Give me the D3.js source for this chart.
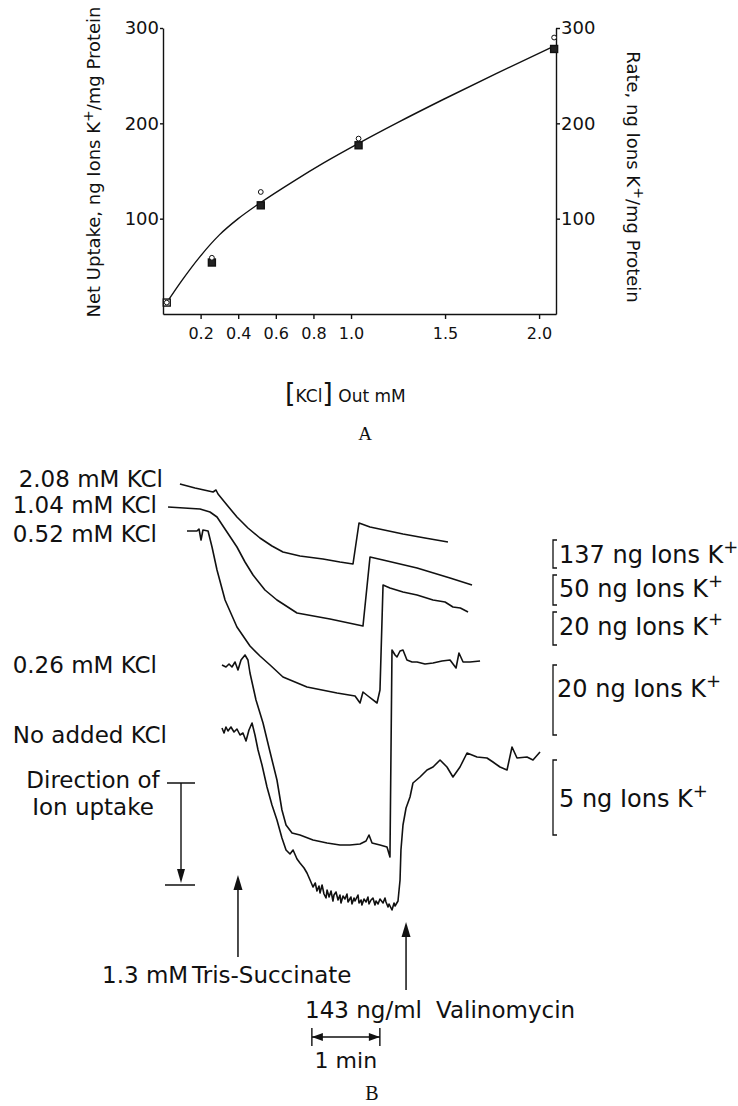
<!DOCTYPE html>
<html>
<head>
<meta charset="utf-8">
<script src="https://cdn.jsdelivr.net/npm/d3@7/dist/d3.min.js"></script>
<style>
  body { margin: 0; background: #fff; }
  text { font-family: "DejaVu Sans", sans-serif; fill: #111; }
  text.serif { font-family: "Liberation Serif", "DejaVu Serif", serif; }
</style>
</head>
<body>
<div class="chart"></div>
<script>
// ---- panel A : net uptake vs external KCl ----
var kclConc     = [0.02, 0.26, 0.52, 1.04, 2.08];
var uptakeSq    = [12, 54, 114, 177, 278];   // squares (net uptake)
var uptakeCirc  = [12, 59, 128, 184, 290];   // open circles (rate)
var fitConc     = [0.02, 0.1, 0.2, 0.3, 0.4, 0.52, 0.7, 0.85, 1.04, 1.25, 1.49, 1.78, 2.08];
var fitUptake   = [12, 35, 61, 83, 100, 117, 140, 158, 179, 201, 225, 253, 281];
var xTicks      = [0.2, 0.4, 0.6, 0.8, 1.0, 1.5, 2.0];
var xTickLabels = ["0.2", "0.4", "0.6", "0.8", "1.0", "1.5", "2.0"];
var yTicks      = [100, 200, 300];

// ---- panel B : recorder traces, [seconds, chart divisions (down = uptake)] ----
var traceNames = ["2.08 mM KCl", "1.04 mM KCl", "0.52 mM KCl", "0.26 mM KCl", "No added KCl"];
var trace208 = [[17.6,2.8],[30.9,3.6],[46.8,4.4],[49.4,4.0],[51.2,4.8],[59.1,7.0],[67.9,9.4],[77.6,11.6],
  [88.2,13.6],[98.8,15.2],[108.5,16.4],[123.5,17.2],[143.8,17.8],[158.8,18.4],[170.3,18.8],[175.6,10.6],
  [185.3,11.4],[214.4,12.8],[233.8,13.6],[254.1,14.4]];
var trace104 = [[7.1,7.4],[35.3,7.8],[44.1,8.4],[50.3,9.4],[59.1,12.4],[67.9,15.4],[75.0,18.4],[82.1,21.0],
  [92.6,24.0],[103.2,26.0],[120.9,28.6],[150.0,29.8],[179.1,31.2],[185.3,17.4],[196.8,18.0],[226.8,19.6],
  [255.9,21.6],[275.3,23.0]];
var trace052 = [[23.8,12.2],[32.6,12.2],[34.4,11.8],[36.2,14.0],[37.9,12.0],[42.4,12.2],[45.9,15.4],[50.3,20.0],
  [57.4,26.0],[67.9,31.4],[79.4,35.2],[88.2,37.2],[97.1,39.0],[108.5,41.4],[129.7,43.4],[156.2,44.6],
  [172.1,45.2],[176.5,46.6],[179.1,44.4],[183.5,45.2],[191.5,46.6],[194.1,44.0],[196.8,23.0],[202.9,23.6],
  [214.4,24.4],[226.8,25.0],[240.9,26.0],[251.5,26.4],[258.5,27.4],[265.0,27.6],[271.8,28.4]];
var trace026 = [[54.7,39.0],[58.2,39.4],[60.9,38.8],[63.5,39.4],[66.2,38.4],[68.8,40.0],[71.5,38.0],[75.0,37.0],
  [77.6,38.0],[79.4,40.6],[84.7,46.0],[90.9,50.6],[97.1,56.4],[103.2,62.0],[107.6,68.0],[111.2,71.0],
  [116.5,72.6],[123.5,73.0],[135.0,74.0],[147.4,74.6],[158.8,75.0],[167.6,75.0],[176.5,74.8],[181.8,74.2],
  [184.4,73.0],[187.1,74.6],[194.1,75.0],[200.3,75.4],[202.9,77.4],[204.7,36.0],[207.4,37.0],[209.1,37.4],
  [211.8,36.2],[214.4,36.0],[217.9,38.0],[222.4,38.4],[226.8,38.4],[233.8,38.8],[240.9,38.6],[248.8,38.2],
  [255.9,38.0],[261.2,39.6],[263.8,36.6],[267.4,38.4],[273.5,38.4],[282.4,38.2]];
var trace000 = [[54.7,51.6],[56.5,52.6],[58.2,51.4],[60.0,52.2],[62.6,51.4],[65.3,52.4],[67.9,51.8],[70.6,53.0],
  [73.2,52.6],[75.9,54.2],[78.5,52.0],[81.2,50.6],[83.8,53.0],[86.5,56.0],[90.0,59.0],[94.4,63.4],
  [98.8,67.0],[103.2,70.0],[107.6,73.6],[111.2,76.0],[114.7,76.8],[117.4,76.0],[120.9,77.8],[123.5,78.6],
  [127.1,79.6],[129.7,80.6],[132.4,82.0],[135.0,83.4],[137.0,82.6],[138.5,84.2],[140.3,83.2],[141.2,84.6],
  [143.0,83.0],[144.7,84.8],[146.5,85.6],[147.4,84.0],[149.2,85.4],[150.9,84.2],[152.6,86.2],[153.5,85.0],
  [155.3,84.4],[157.1,86.0],[158.8,85.0],[159.7,86.6],[161.5,85.2],[163.2,85.8],[165.0,84.8],[165.9,86.4],
  [168.5,85.4],[169.4,86.8],[171.2,85.6],[172.1,86.2],[174.7,85.0],[175.6,86.6],[177.4,86.0],[178.2,87.0],
  [180.0,85.8],[181.8,86.4],[183.5,85.4],[184.4,86.8],[186.2,86.0],[187.9,85.6],[189.7,87.0],[190.6,86.2],
  [192.4,86.8],[194.1,85.8],[196.8,86.6],[198.5,85.6],[199.4,86.4],[201.2,87.4],[202.1,86.8],[204.7,88.0],
  [206.5,86.6],[207.4,87.2],[210.0,86.2],[211.8,82.0],[212.6,76.0],[214.4,71.0],
  [217.1,67.6],[220.6,65.4],[223.2,62.6],[229.4,61.4],[235.6,60.0],[240.9,59.4],[247.1,58.0],[253.2,59.4],
  [258.5,61.4],[264.7,59.4],[270.9,56.6],[279.7,57.4],[288.5,57.6],[293.8,58.4],[300.0,59.4],[306.2,60.0],
  [310.6,55.4],[315.0,57.6],[323.8,57.4],[329.1,58.0],[335.3,56.4]];
var traces = [trace208, trace104, trace052, trace026, trace000];

// calibration brackets, in chart divisions, and their labels
var calibDiv    = [[14, 19.6], [21, 27], [28.4, 35], [39, 53], [58, 73]];
var calibLabels = ["137 ng Ions K", "50 ng Ions K", "20 ng Ions K", "20 ng Ions K", "5 ng Ions K"];
var succinateAt   = 68.8;   // s
var valinomycinAt = 217.1;  // s
var minuteBarAt   = 134;    // s, start of the 1 min bar

var width = 738, height = 1106, ink = "#111";

var svg = d3.select(".chart").append("svg")
            .attr("width", width).attr("height", height);

//---------------- panel A
var x = d3.scaleLinear().domain([0, 2.09]).range([163, 556]);
var y = d3.scaleLinear().domain([0, 300]).range([314, 28]);
var gA = svg.append("g");

var xAxis = gA.append("g").attr("transform", "translate(0," + y(0) + ")")
  .call(d3.axisBottom(x).tickValues(xTicks).tickFormat(function(d, i){ return xTickLabels[i]; })
          .tickSize(5).tickSizeOuter(0).tickPadding(9));
xAxis.attr("font-size", 16);
var leftAxis = gA.append("g").attr("transform", "translate(" + x(0) + ",0)")
  .call(d3.axisLeft(y).tickValues(yTicks).tickSize(3).tickSizeOuter(0).tickPadding(1));
leftAxis.attr("font-size", 18);
var rightAxis = gA.append("g").attr("transform", "translate(" + x(2.09) + ",0)")
  .call(d3.axisRight(y).tickValues(yTicks).tickSize(4).tickSizeOuter(0).tickPadding(1));
rightAxis.attr("font-size", 18);
gA.selectAll(".domain, .tick line").attr("stroke", ink).attr("stroke-width", 1.4);
gA.selectAll(".tick text").attr("fill", ink);

var fitLine = d3.line().x(function(d){ return x(d[0]); }).y(function(d){ return y(d[1]); })
                .curve(d3.curveMonotoneX);
gA.append("path").datum(d3.zip(fitConc, fitUptake)).attr("d", fitLine)
  .attr("fill", "none").attr("stroke", ink).attr("stroke-width", 1.4);

gA.selectAll("rect.sq").data(d3.zip(kclConc, uptakeSq)).enter().append("rect")
  .attr("class", "sq")
  .attr("x", function(d){ return x(d[0]) - 3.5; }).attr("y", function(d){ return y(d[1]) - 3.5; })
  .attr("width", 7).attr("height", 7)
  .attr("fill", function(d, i){ return i === 0 ? "#fff" : "#222"; })
  .attr("stroke", ink).attr("stroke-width", 1.4);
gA.selectAll("circle.ci").data(d3.zip(kclConc, uptakeCirc)).enter().append("circle")
  .attr("class", "ci")
  .attr("cx", function(d){ return x(d[0]); }).attr("cy", function(d){ return y(d[1]); })
  .attr("r", 2.4).attr("fill", "#fff").attr("stroke", ink).attr("stroke-width", 1);

var leftLab = gA.append("text").attr("transform", "translate(100,162) rotate(-90)")
  .attr("text-anchor", "middle").attr("font-size", 18);
leftLab.append("tspan").text("Net Uptake, ng Ions K");
leftLab.append("tspan").attr("dy", -7).attr("font-size", 14).text("+");
leftLab.append("tspan").attr("dy", 7).text("/mg Protein");

var rightLab = gA.append("text").attr("transform", "translate(627,177) rotate(90)")
  .attr("text-anchor", "middle").attr("font-size", 18);
rightLab.append("tspan").text("Rate, ng Ions K");
rightLab.append("tspan").attr("dy", -7).attr("font-size", 14).text("+");
rightLab.append("tspan").attr("dy", 7).text("/mg Protein");

var xLab = gA.append("text").attr("x", 285).attr("y", 402).attr("font-size", 17);
xLab.append("tspan").attr("font-size", 27).text("[");
xLab.append("tspan").text("KCl");
xLab.append("tspan").attr("font-size", 27).text("]");
xLab.append("tspan").text(" Out mM");

gA.append("text").attr("class", "serif").attr("x", 365).attr("y", 440).attr("text-anchor", "middle")
  .attr("font-size", 19).text("A");

//---------------- panel B
var t = d3.scaleLinear().domain([0, 450]).range([160, 670]);
var dv = d3.scaleLinear().domain([0, 90]).range([470, 920]);
var gB = svg.append("g");

var traceLine = d3.line().x(function(d){ return t(d[0]); }).y(function(d){ return dv(d[1]); });
gB.selectAll("path.trace").data(traces).enter().append("path")
  .attr("class", "trace").attr("d", traceLine)
  .attr("fill", "none").attr("stroke", ink).attr("stroke-width", 1.6)
  .attr("stroke-linejoin", "round");

// trace names, right-aligned in front of each trace
var nameRight = [163, 157, 157, 157, 167];
var nameBase  = [487, 513, 542, 673, 743];
gB.selectAll("text.name").data(traceNames).enter().append("text")
  .attr("class", "name").attr("text-anchor", "end").attr("font-size", 23)
  .attr("x", function(d, i){ return nameRight[i]; })
  .attr("y", function(d, i){ return nameBase[i]; })
  .text(function(d){ return d; });

// calibration brackets
var calibBase = [563, 597, 635, 697, 807];
calibDiv.forEach(function(c, i){
  var y0 = dv(c[0]), y1 = dv(c[1]), bx = 553;
  gB.append("path").attr("d", "M" + (bx + 4) + "," + y0 + "H" + bx + "V" + y1 + "H" + (bx + 4))
    .attr("fill", "none").attr("stroke", ink).attr("stroke-width", 1.3);
  var lab = gB.append("text").attr("x", i === 3 ? 557 : 559).attr("y", calibBase[i]).attr("font-size", 24);
  lab.append("tspan").text(calibLabels[i]);
  lab.append("tspan").attr("dy", -10).attr("font-size", 18).text("+");
});

// direction of ion uptake
var dirX = 181;
gB.append("text").attr("x", 93).attr("y", 788).attr("text-anchor", "middle").attr("font-size", 23).text("Direction of");
gB.append("text").attr("x", 93).attr("y", 815).attr("text-anchor", "middle").attr("font-size", 23).text("Ion uptake");
gB.append("path").attr("d", "M167,783H195M" + dirX + ",783V872M165,885H195")
  .attr("fill", "none").attr("stroke", ink).attr("stroke-width", 1.4);
gB.append("path").attr("d", "M" + (dirX - 4) + ",869L" + (dirX + 4) + ",869L" + dirX + ",883Z").attr("fill", ink);

// addition arrows
function upArrow(px, tipY, baseY){
  gB.append("path").attr("d", "M" + px + "," + baseY + "V" + (tipY + 10))
    .attr("stroke", ink).attr("stroke-width", 1.5);
  gB.append("path").attr("d", "M" + (px - 4.5) + "," + (tipY + 15) + "L" + (px + 4.5) + "," + (tipY + 15) + "L" + px + "," + tipY + "Z")
    .attr("fill", ink);
}
upArrow(t(succinateAt), 875, 957);
upArrow(t(valinomycinAt), 922, 990);

var suc = gB.append("text").attr("y", 983).attr("font-size", 23);
suc.append("tspan").attr("x", 102).text("1.3 mM");
suc.append("tspan").attr("x", 192).text("Tris-Succinate");
var val = gB.append("text").attr("y", 1018).attr("font-size", 23);
val.append("tspan").attr("x", 305).text("143 ng/ml");
val.append("tspan").attr("x", 436).text("Valinomycin");

// 1 min bar
var m0 = t(minuteBarAt), m1 = t(minuteBarAt + 60), my = 1037;
gB.append("path").attr("d", "M" + m0 + "," + (my - 9) + "V" + (my + 9) + "M" + m1 + "," + (my - 9) + "V" + (my + 9) +
                           "M" + m0 + "," + my + "H" + m1)
  .attr("fill", "none").attr("stroke", ink).attr("stroke-width", 1.4);
gB.append("path").attr("d", "M" + m0 + "," + my + "L" + (m0 + 11) + "," + (my - 4) + "L" + (m0 + 11) + "," + (my + 4) + "Z" +
                           "M" + m1 + "," + my + "L" + (m1 - 11) + "," + (my - 4) + "L" + (m1 - 11) + "," + (my + 4) + "Z")
  .attr("fill", ink);
gB.append("text").attr("x", (m0 + m1) / 2).attr("y", 1068).attr("text-anchor", "middle").attr("font-size", 22).text("1 min");

gB.append("text").attr("class", "serif").attr("x", 372).attr("y", 1100).attr("text-anchor", "middle")
  .attr("font-size", 20).text("B");
</script>
</body>
</html>
